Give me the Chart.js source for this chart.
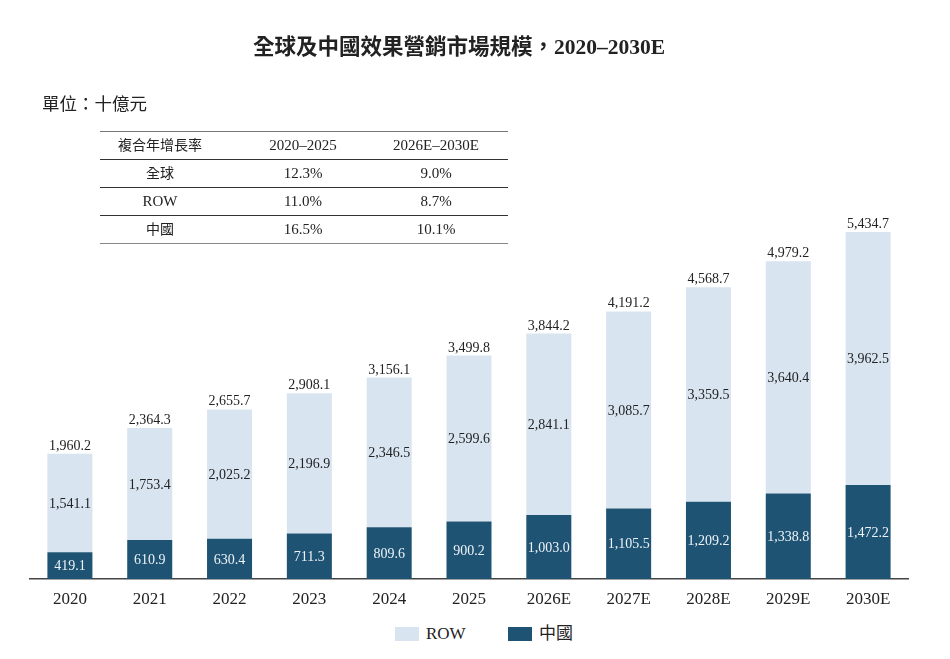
<!DOCTYPE html>
<html>
<head>
<meta charset="utf-8">
<script src="https://cdn.jsdelivr.net/npm/chart.js@4.4.1/dist/chart.umd.min.js"></script>
<style>
  body { margin: 0; background: #fff; font-family: "Liberation Serif", "Noto Sans CJK TC", serif; color: #222; }
  #wrap { position: relative; width: 950px; height: 659px; overflow: hidden; }
  #title { position: absolute; top: 29px; left: -16px; width: 950px; text-align: center; font-size: 21.5px; font-weight: bold; }
  #unit { position: absolute; top: 90px; left: 42px; font-size: 17.5px; }
  #cagr { position: absolute; top: 131px; left: 100px; width: 408px; border-collapse: collapse; font-size: 15px; }
  #cagr td { height: 27px; padding: 0; text-align: center; border-bottom: 1px solid #333; line-height: 27px; }
  #cagr td.c { font-size: 14px; }
  #cagr tr:first-child td { border-top: 1px solid #777; }
  #cagr tr:last-child td { border-bottom: 1px solid #888; }
  #box { position: absolute; top: 0; left: 0; width: 950px; height: 620px; }
  .leg { position: absolute; top: 624px; height: 20px; display: flex; align-items: center; font-size: 17px; line-height: 20px; }
  .sw { display: inline-block; width: 24px; height: 14px; margin-right: 7px; }
</style>
</head>
<body>
<div id="wrap">
  <div id="box"><canvas id="myChart"></canvas></div>
  <div id="title">全球及中國效果營銷市場規模，2020–2030E</div>
  <div id="unit">單位：十億元</div>
  <table id="cagr">
    <tr><td class="c" style="width:120px">複合年增長率</td><td style="width:166px">2020–2025</td><td style="padding-right:22px">2026E–2030E</td></tr>
    <tr><td class="c">全球</td><td>12.3%</td><td style="padding-right:22px">9.0%</td></tr>
    <tr><td>ROW</td><td>11.0%</td><td style="padding-right:22px">8.7%</td></tr>
    <tr><td class="c">中國</td><td>16.5%</td><td style="padding-right:22px">10.1%</td></tr>
  </table>
  <div class="leg" style="left:395px"><span class="sw" style="background:#d8e5f1"></span><span>ROW</span></div>
  <div class="leg" style="left:508px"><span class="sw" style="background:#1e5373"></span><span>中國</span></div>
</div>
<script>
const years = ["2020", "2021", "2022", "2023", "2024", "2025", "2026E", "2027E", "2028E", "2029E", "2030E"];
const chinaValues = [419.1, 610.9, 630.4, 711.3, 809.6, 900.2, 1003.0, 1105.5, 1209.2, 1338.8, 1472.2];
const rowValues = [1541.1, 1753.4, 2025.2, 2196.9, 2346.5, 2599.6, 2841.1, 3085.7, 3359.5, 3640.4, 3962.5];
const totals = [1960.2, 2364.3, 2655.7, 2908.1, 3156.1, 3499.8, 3844.2, 4191.2, 4568.7, 4979.2, 5434.7];

function fmt(v) {
  return v.toLocaleString("en-US", { minimumFractionDigits: 1, maximumFractionDigits: 1 });
}

// draws the value inside each segment and the total above each bar
const barLabels = {
  id: "barLabels",
  afterDatasetsDraw(chart) {
    const ctx = chart.ctx;
    const china = chart.getDatasetMeta(0).data;
    const row = chart.getDatasetMeta(1).data;
    ctx.save();
    ctx.font = '14px "Liberation Serif"';
    ctx.textAlign = "center";
    china.forEach(function (bar, i) {
      const r = row[i];
      ctx.textBaseline = "middle";
      ctx.fillStyle = "#eef3f8";
      ctx.fillText(fmt(chinaValues[i]), bar.x, (bar.y + bar.base) / 2 + 1);
      ctx.fillStyle = "#222";
      ctx.fillText(fmt(rowValues[i]), r.x, (r.y + r.base) / 2 + 1);
      ctx.textBaseline = "alphabetic";
      ctx.fillText(fmt(totals[i]), r.x, r.y - 4);
    });
    ctx.restore();
  }
};

const config = {
  type: "bar",
  data: {
    labels: years,
    datasets: [
      { label: "中國", data: chinaValues, backgroundColor: "#1e5373" },
      { label: "ROW", data: rowValues, backgroundColor: "#d8e5f1" }
    ]
  },
  options: {
    responsive: true,
    maintainAspectRatio: false,
    animation: false,
    layout: { padding: { left: 30, right: 42, top: 196, bottom: 0 } },
    datasets: { bar: { barPercentage: 0.564, categoryPercentage: 1.0 } },
    scales: {
      x: {
        stacked: true,
        grid: { display: false, drawTicks: false },
        border: { display: true, color: "#444", width: 1.5 },
        ticks: { color: "#222", padding: 10, font: { family: "Liberation Serif", size: 17 } },
        afterFit: function (scale) { scale.height = 41; }
      },
      y: {
        stacked: true,
        display: false,
        min: 0,
        max: 6000
      }
    },
    plugins: {
      legend: { display: false },
      tooltip: { enabled: false }
    }
  },
  plugins: [barLabels]
};

const myChart = new Chart(document.getElementById("myChart"), config);
</script>
</body>
</html>
